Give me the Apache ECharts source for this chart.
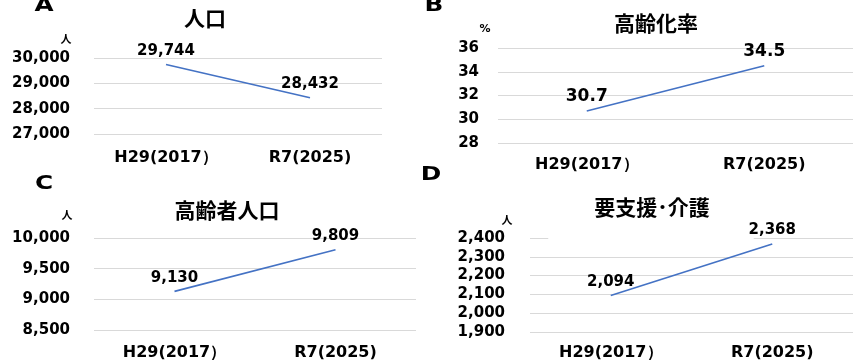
<!DOCTYPE html>
<html>
<head>
<meta charset="utf-8">
<script src="https://cdn.jsdelivr.net/npm/echarts@6/dist/echarts.min.js"></script>
<style>
  html, body { margin: 0; padding: 0; background: #fff; }
  #chart { width: 853px; height: 361px; }
</style>
</head>
<body>
<div id="chart"></div>
<script>
// Categories shared by all four panels
const categories = ['H29(2017）', 'R7(2025)'];

// Panel values
const populationValues = [29744, 28432];      // A: 人口
const agingRateValues = [30.7, 34.5];         // B: 高齢化率 (%)
const elderlyValues = [9130, 9809];           // C: 高齢者人口
const careValues = [2094, 2368];              // D: 要支援･介護

// Panel titles
const panelTitles = ['人口', '高齢化率', '高齢者人口', '要支援･介護'];

const LINE = '#4472C4';
const GRID_LINE = '#d9d9d9';
const NUM_FONT = 'DejaVu Sans';
const CJK_FONT = '"Noto Sans CJK JP", sans-serif';

const fmtInt = v => Number(v).toLocaleString('en-US');
const fmtOne = v => Number(v).toFixed(1);

const grids = [
  { left: 94, top: 58, width: 288, height: 76 },
  { left: 498, top: 48, width: 364, height: 95 },
  { left: 94, top: 238, width: 322, height: 94 },
  { left: 530, top: 238, width: 332, height: 94 }
];

const yCfg = [
  { min: 27000, max: 30000, interval: 1000, fmt: fmtInt, margin: 24 },
  { min: 28, max: 36, interval: 2, fmt: v => String(v), margin: 19 },
  { min: 8500, max: 10000, interval: 500, fmt: fmtInt, margin: 24 },
  { min: 1900, max: 2400, interval: 100, fmt: fmtInt, margin: 25 }
];
const xMargins = [16, 14, 15, 13];
const labelSizes = [15, 17, 15, 15];
const seriesData = [populationValues, agingRateValues, elderlyValues, careValues];
const labelFmts = [fmtInt, fmtOne, fmtInt, fmtInt];

// Panel letter and unit text helpers
const letter = (t, x, y) => ({
  type: 'text', x, y, scaleX: 1.3,
  style: { text: t, font: 'bold 19px "DejaVu Sans"', fill: '#000', align: 'center', verticalAlign: 'middle' }
});
const unit = (t, x, y, font) => ({
  type: 'text', x, y,
  style: { text: t, font, fill: '#000', align: 'center', verticalAlign: 'middle' }
});

const chart = echarts.init(document.getElementById('chart'), null, { renderer: 'canvas' });

chart.setOption({
  backgroundColor: '#fff',
  animation: false,
  title: [
    { text: panelTitles[0], left: 205, top: 8, textAlign: 'center' },
    { text: panelTitles[1], left: 656, top: 13, textAlign: 'center' },
    { text: panelTitles[2], left: 227, top: 200, textAlign: 'center' },
    // white box behind this title hides part of the top grid line
    { text: panelTitles[3], left: 606, top: 175, textAlign: 'center', z: 1,
      backgroundColor: '#fff', padding: [22, 44, 22, 46] }
  ].map(t => Object.assign({
    textStyle: { fontFamily: CJK_FONT, fontWeight: 'bold', fontSize: 21, color: '#000' },
    padding: 0
  }, t)),
  grid: grids,
  xAxis: grids.map((g, i) => ({
    type: 'category',
    gridIndex: i,
    data: categories,
    boundaryGap: true,
    axisLine: { show: false },
    axisTick: { show: false },
    axisLabel: {
      margin: xMargins[i],
      color: '#000',
      fontFamily: NUM_FONT,
      fontWeight: 'bold',
      fontSize: 16
    }
  })),
  yAxis: yCfg.map((c, i) => ({
    type: 'value',
    gridIndex: i,
    min: c.min,
    max: c.max,
    interval: c.interval,
    axisLine: { show: false },
    axisTick: { show: false },
    splitLine: { lineStyle: { color: GRID_LINE, width: 1 } },
    axisLabel: {
      margin: c.margin,
      color: '#000',
      fontFamily: NUM_FONT,
      fontWeight: 'bold',
      fontSize: 15,
      formatter: c.fmt
    }
  })),
  series: seriesData.map((d, i) => ({
    type: 'line',
    xAxisIndex: i,
    yAxisIndex: i,
    data: d,
    z: 3,
    symbol: 'circle',
    symbolSize: 2,
    showSymbol: true,
    itemStyle: { color: LINE, opacity: 0 },
    lineStyle: { color: LINE, width: 1.6 },
    label: {
      show: true,
      position: 'top',
      distance: 5,
      opacity: 1,
      color: '#000',
      fontFamily: NUM_FONT,
      fontWeight: 'bold',
      fontSize: labelSizes[i],
      formatter: p => labelFmts[i](p.value)
    }
  })),
  graphic: [
    letter('A', 44, 6),
    letter('B', 434, 6),
    letter('C', 44, 184),
    letter('D', 431, 175),
    unit('人', 66, 39, 'bold 11px "Noto Sans CJK JP"'),
    unit('%', 485, 29, 'bold 11px "DejaVu Sans"'),
    unit('人', 67, 215, 'bold 11px "Noto Sans CJK JP"'),
    unit('人', 507, 220, 'bold 11px "Noto Sans CJK JP"')
  ]
});
</script>
</body>
</html>
